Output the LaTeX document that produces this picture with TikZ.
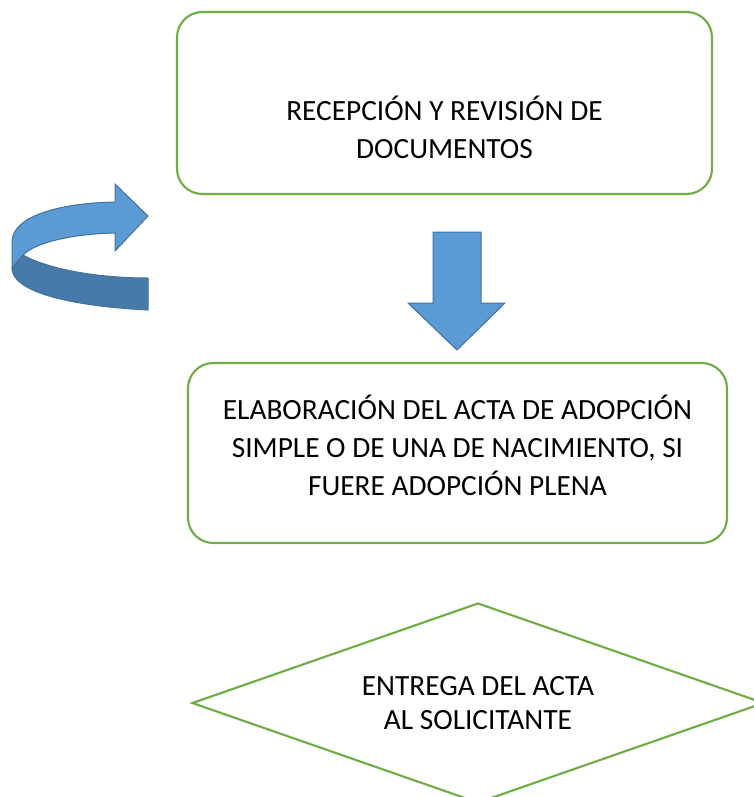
\documentclass[tikz,border=0pt]{standalone}
\usepackage{fontspec}
\setmainfont{Carlito}
\usepackage{tikz}
\usetikzlibrary{shapes.geometric}

\definecolor{boxgreen}{RGB}{112,173,71}
\definecolor{arrowblue}{RGB}{91,155,213}
\definecolor{arrowdark}{RGB}{71,122,170}
\definecolor{arrowline}{RGB}{65,113,156}

\tikzset{
  stepbox/.style={draw=boxgreen, line width=1.6pt, rounded corners=19pt, fill=white},
  steptext/.style={align=center, inner sep=0.75pt, font=\fontsize{22}{28.5}\selectfont},
  blockarrow/.style={fill=arrowblue, draw=arrowline, line width=0.75pt, line join=miter},
}

\begin{document}
\begin{tikzpicture}[x=0.75pt,y=0.75pt,yscale=-1,xscale=1]
\useasboundingbox (0,0) rectangle (754,797);

% Rounded boxes
\node (recepcionbox) [stepbox, minimum width=401.25pt, minimum height=136.5pt] at (444.5,103) {};
\node (recepcion) [steptext] at (444.5,127) {RECEPCIÓN Y REVISIÓN DE\\DOCUMENTOS};

\node (elaboracionbox) [stepbox, minimum width=404.25pt, minimum height=135pt] at (457.5,453) {};
\node (elaboracion) [steptext] at (457.5,445) {ELABORACIÓN DEL ACTA DE ADOPCIÓN\\SIMPLE O DE UNA DE NACIMIENTO, SI\\FUERE ADOPCIÓN PLENA};

% Diamond
\node (entrega) [diamond, draw=boxgreen, line width=1.6pt, aspect=2.86, inner sep=0pt, minimum width=429pt, minimum height=150pt, align=center, font=\fontsize{22}{26}\selectfont] at (478,703) {ENTREGA DEL ACTA\\AL SOLICITANTE};

% Down block arrow
\draw [blockarrow] (433,232) -- (481,232) -- (481,303) -- (505,303) -- (457,350) -- (408,303) -- (433,303) -- cycle;

% Curved block arrow, back side
\draw [blockarrow, fill=arrowdark] (23,255) .. controls (50,270) and (100,278) .. (148,278) -- (148,310) .. controls (70,306) and (12,292) .. (12,268) -- cycle;
% Curved block arrow, front side
\draw [blockarrow] (12,268) -- (12,242) .. controls (12,216) and (60,203) .. (115,202) -- (115,184) -- (148,216) -- (115,251) -- (115,233) .. controls (70,234) and (35,243) .. (23,255) -- cycle;

\end{tikzpicture}
\end{document}
